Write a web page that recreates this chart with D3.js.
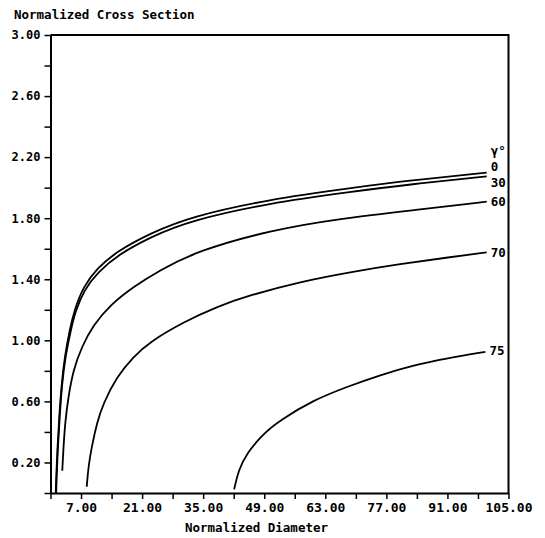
<!DOCTYPE html>
<html>
<head>
<meta charset="utf-8">
<script src="https://cdn.jsdelivr.net/npm/d3@7"></script>
<style>
  body { margin: 0; background: #fff; }
  text { font-family: "DejaVu Sans Mono", monospace; font-weight: bold; fill: #000; }
</style>
</head>
<body>
<div id="chart"></div>
<script>
// data: [normalized diameter, normalized cross section]
const curve0 = [[1.2,0.0],[1.3,0.1],[1.56,0.28],[2.0,0.5],[2.55,0.72],[3.3,0.9],[4.4,1.07],[5.5,1.2],[7.5,1.35],[10.6,1.47],[15.3,1.585],[22.8,1.70],[32,1.81],[50.4,1.925],[68,1.995],[83.3,2.05],[100,2.098]];
const curve30 = [[1.3,0.0],[1.4,0.1],[1.65,0.28],[2.1,0.5],[2.65,0.72],[3.45,0.9],[4.6,1.06],[5.7,1.19],[7.7,1.33],[10.8,1.445],[15.5,1.56],[22.8,1.675],[32,1.785],[50.4,1.90],[68,1.97],[83.3,2.025],[100,2.074]];
const curve60 = [[2.7,0.146],[2.94,0.28],[3.33,0.457],[4.09,0.63],[5.23,0.806],[7.16,0.958],[9.82,1.10],[13.66,1.231],[19.0,1.351],[25.1,1.46],[33.6,1.585],[50.4,1.722],[67,1.80],[83.3,1.853],[100,1.908]];
const curve70 = [[8.31,0.041],[8.68,0.172],[9.46,0.303],[10.6,0.456],[12.1,0.587],[15.2,0.762],[19.0,0.893],[22.8,0.991],[30.5,1.12],[38.1,1.22],[45.8,1.297],[57.3,1.384],[68.7,1.447],[80.2,1.50],[91.6,1.545],[100,1.576]];
const curve75 = [[42.1,0.024],[43.1,0.15],[45.0,0.26],[48.8,0.39],[52.7,0.478],[60.3,0.609],[68,0.696],[75.6,0.773],[83.3,0.838],[90.9,0.882],[99.7,0.925]];

const angles = ["0", "30", "60", "70", "75"];
const curves = [curve0, curve30, curve60, curve70, curve75];
const labelShift = [-6, 6, 0, 0, -1]; // nudge so 0 and 30 labels don't collide

const xTicks = d3.range(0, 106, 7);          // 0, 7, ... 105
const xLabels = [7, 21, 35, 49, 63, 77, 91, 105];
const yTicks = d3.range(0, 16).map(i => +(i * 0.2).toFixed(1)); // 0 .. 3.0
const yLabels = [0.2, 0.6, 1.0, 1.4, 1.8, 2.2, 2.6, 3.0];

// SET UP
const margin = { top: 35, right: 36.5, bottom: 45, left: 50.5 };
const width = 545 - margin.left - margin.right;
const height = 538 - margin.top - margin.bottom;

const svg = d3.select("#chart")
    .append("svg")
    .attr("width", 545)
    .attr("height", 538);

const g = svg.append("g")
    .attr("transform", `translate(${margin.left},${margin.top})`);

const xScale = d3.scaleLinear().domain([0, 105]).range([0, width]);
const yScale = d3.scaleLinear().domain([0, 3]).range([height, 0]);

// frame (top + right)
g.append("path")
    .attr("d", `M0,${yScale(3)}H${xScale(105)}V${yScale(0)}`)
    .attr("fill", "none")
    .attr("stroke", "#000")
    .attr("stroke-width", 2);

// AXES
const fmt = d3.format(".2f");

const xAxis = g.append("g")
    .attr("transform", `translate(0,${height})`)
    .call(d3.axisBottom(xScale)
        .tickValues(xTicks)
        .tickSize(6)
        .tickSizeOuter(0)
        .tickPadding(4)
        .tickFormat(d => xLabels.includes(d) ? fmt(d) : ""));

const yAxis = g.append("g")
    .call(d3.axisLeft(yScale)
        .tickValues(yTicks)
        .tickSize(6)
        .tickSizeOuter(0)
        .tickPadding(4)
        .tickFormat(d => yLabels.some(v => Math.abs(v - d) < 1e-6) ? fmt(d) : ""));

[xAxis, yAxis].forEach(ax => {
    ax.select(".domain").attr("stroke-width", 2);
    ax.selectAll(".tick line").attr("stroke-width", 1.5);
    ax.selectAll("text")
        .attr("font-family", "DejaVu Sans Mono, monospace")
        .attr("font-weight", "bold");
});
xAxis.selectAll("text").attr("font-size", 13);
yAxis.selectAll("text").attr("font-size", 12);

// CURVES - basis spline to smooth out reading noise
const line = d3.line()
    .x(d => xScale(d[0]))
    .y(d => yScale(d[1]))
    .curve(d3.curveBasis);

g.selectAll(".curve")
    .data(curves)
    .join("path")
    .attr("class", "curve")
    .attr("fill", "none")
    .attr("stroke", "#000")
    .attr("stroke-width", 1.8)
    .attr("d", line);

g.selectAll(".clabel")
    .data(curves)
    .join("text")
    .attr("class", "clabel")
    .attr("x", d => xScale(d[d.length - 1][0]) + 4)
    .attr("y", (d, i) => yScale(d[d.length - 1][1]) + labelShift[i])
    .attr("dy", "0.35em")
    .attr("font-size", 12.5)
    .text((d, i) => angles[i]);

g.append("text")
    .attr("x", xScale(100) + 4)
    .attr("y", yScale(2.098) - 17.5)
    .attr("font-size", 12.5)
    .text("γ°");

// TITLES
svg.append("text")
    .attr("x", 14)
    .attr("y", 19)
    .attr("font-size", 12.5)
    .text("Normalized Cross Section");

svg.append("text")
    .attr("x", 185)
    .attr("y", 532)
    .attr("font-size", 12.5)
    .text("Normalized Diameter");
</script>
</body>
</html>
